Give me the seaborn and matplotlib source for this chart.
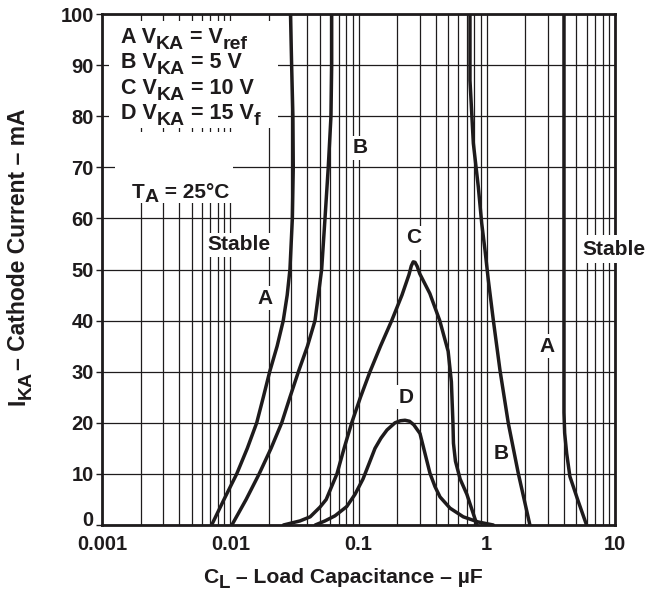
import numpy as np
import pandas as pd
import matplotlib
matplotlib.use("Agg")
import matplotlib.pyplot as plt
from matplotlib.ticker import FixedLocator, NullFormatter
from matplotlib.transforms import offset_copy
import seaborn as sns

# Curve data (C_L in uF, I_KA in mA)
a_left_c = [0.00716, 0.00894, 0.01123, 0.01358, 0.01608, 0.0181, 0.0203, 0.0232, 0.0259,
            0.0278, 0.0292, 0.0305, 0.0310, 0.0308, 0.0301, 0.0295]
a_left_i = [0, 5, 10, 15, 20, 25, 30, 35, 40, 45, 50, 60, 70, 80, 90, 100]

b_left_c = [0.0103, 0.0133, 0.0168, 0.0208, 0.0252, 0.0292, 0.0340, 0.0400, 0.0458,
            0.0516, 0.0548, 0.0581, 0.0610, 0.0618, 0.0618]
b_left_i = [0, 5, 10, 15, 20, 25, 30, 35, 40, 50, 60, 70, 80, 90, 100]

c_c = [0.026, 0.035, 0.042, 0.0501, 0.056, 0.0679, 0.0772, 0.0885, 0.1036, 0.1229,
       0.1484, 0.1815, 0.2183, 0.2476, 0.258, 0.267, 0.276, 0.287, 0.300, 0.360, 0.430,
       0.500, 0.530, 0.545, 0.550, 0.570, 0.620, 0.700, 0.840]
c_i = [0, 0.8, 1.6, 3.5, 5, 10, 15, 20, 25, 30, 35, 40, 45, 49, 50.7, 51.5, 51.4, 50.6,
       49.2, 45.3, 40, 34, 28, 20, 16, 12.5, 9, 6, 0]

d_c = [0.046, 0.0548, 0.0656, 0.0809, 0.0939, 0.1084, 0.1208, 0.1345, 0.1497, 0.1668,
       0.1926, 0.2120, 0.2306, 0.250, 0.270, 0.3016, 0.330, 0.361, 0.395, 0.432, 0.517,
       0.656, 0.855, 1.125]
d_i = [0, 0.8, 1.8, 3.6, 6, 9, 12, 15, 17, 18.6, 20, 20.4, 20.5, 20.3, 19.6, 17.9, 14,
       10.1, 7.5, 5.5, 3.3, 1.6, 0.6, 0]

b_right_c = [0.740, 0.740, 0.786, 0.859, 0.914, 0.969, 1.028, 1.125, 1.268, 1.473, 1.762, 2.170]
b_right_i = [100, 87, 74.7, 66.2, 59, 53.8, 48, 40.1, 30.3, 19.9, 10.1, 0]

a_right_c = [4.0, 4.0, 4.05, 4.2, 4.45, 5.15, 6.0]
a_right_i = [100, 22, 18, 14, 9.5, 4.75, 0]

y_ticks = [0, 10, 20, 30, 40, 50, 60, 70, 80, 90, 100]
x_ticks = [0.001, 0.01, 0.1, 1, 10]
x_tick_labels = ["0.001", "0.01", "0.1", "1", "10"]

curves = [(a_left_c, a_left_i), (b_left_c, b_left_i), (c_c, c_i),
          (d_c, d_i), (b_right_c, b_right_i), (a_right_c, a_right_i)]

sns.set_theme(style="white")
plt.rcParams['font.family'] = ['Liberation Sans', 'DejaVu Sans']
plt.rcParams['font.weight'] = 'bold'

ink = '#1e1b1c'
fs_tick = 14.5
fs_text = 15
fs_leg = 15.5
fs_sub = 14
fs_title = 15.2

fig = plt.figure(figsize=(6.45, 5.91), dpi=100)
ax = fig.add_axes([102 / 645, 1 - 525 / 591, 513 / 645, 511 / 591])

for cx, cy in curves:
    df = pd.DataFrame({'cap': cx, 'cur': cy})
    sns.lineplot(data=df, x='cap', y='cur', sort=False, estimator=None,
                 color=ink, lw=2.5, ax=ax, zorder=4)

ax.set_xscale('log')
ax.set_xlim(0.001, 10)
ax.set_ylim(0, 100)

minor = [m * 10.0 ** e for e in range(-3, 1) for m in range(2, 10)]
ax.xaxis.set_major_locator(FixedLocator(x_ticks))
ax.xaxis.set_minor_locator(FixedLocator(minor))
ax.xaxis.set_minor_formatter(NullFormatter())
ax.set_xticklabels(x_tick_labels)
ax.set_yticks(y_ticks)

ax.grid(True, which='both', axis='x', color=ink, lw=0.9)
ax.grid(True, which='major', axis='y', color=ink, lw=0.9)
ax.set_axisbelow(True)

for s in ax.spines.values():
    s.set_visible(True)
    s.set_color(ink)
    s.set_linewidth(2.0)

ax.tick_params(axis='x', which='both', length=0, pad=7, labelsize=fs_tick, colors=ink)
ax.tick_params(axis='y', which='major', length=4, width=1, pad=2, labelsize=fs_tick,
               colors=ink, left=True)
for lbl in ax.get_xticklabels() + ax.get_yticklabels():
    lbl.set_fontweight('bold')
# the "0" label sits a little above its gridline in the reference
zero_lbl = ax.yaxis.get_major_ticks()[0].label1
zero_lbl.set_transform(offset_copy(zero_lbl.get_transform(), fig=fig, y=6, units='dots'))
ax.set_xlabel('')
ax.set_ylabel('')


def rich_text(parent, x, y, segments, transform, size, sub_size, vertical=False):
    # chain normal / subscript pieces so subscripts keep a large size
    rot = 90 if vertical else 0
    first = parent.text(x, y, segments[0][0], transform=transform, fontsize=size,
                        fontweight='bold', color=ink, rotation=rot,
                        ha='right' if vertical else 'left', va='bottom', zorder=6)
    prev = first
    for txt, is_sub in segments[1:]:
        fsz = sub_size if is_sub else size
        shift = -3.5 if is_sub else 0
        if vertical:
            prev = ax.annotate(txt, xy=(1, 1), xycoords=(first, prev), xytext=(-shift, 0),
                               textcoords='offset points', ha='right', va='bottom',
                               rotation=90, fontsize=fsz, fontweight='bold', color=ink,
                               zorder=6, annotation_clip=False)
        else:
            prev = ax.annotate(txt, xy=(1, 0), xycoords=(prev, first), xytext=(0, shift),
                               textcoords='offset points', ha='left', va='bottom',
                               fontsize=fsz, fontweight='bold', color=ink,
                               zorder=6, annotation_clip=False)
    return first


# legend block with white background
ax.add_patch(plt.Rectangle((0.014, 0.777), 0.33, 0.21, transform=ax.transAxes,
                           facecolor='white', edgecolor='none', zorder=2))
legend_lines = [
    [('A V', False), ('KA', True), (' = V', False), ('ref', True)],
    [('B V', False), ('KA', True), (' = 5 V', False)],
    [('C V', False), ('KA', True), (' = 10 V', False)],
    [('D V', False), ('KA', True), (' = 15 V', False), ('f', True)],
]
for k, segs in enumerate(legend_lines):
    rich_text(ax, 0.037, 0.934 - k * 0.0499, segs, ax.transAxes, fs_leg, fs_sub)

ax.add_patch(plt.Rectangle((0.025, 0.630), 0.23, 0.14, transform=ax.transAxes,
                           facecolor='white', edgecolor='none', zorder=2))
rich_text(ax, 0.058, 0.633, [('T', False), ('A', True), (' = 25°C', False)],
          ax.transAxes, fs_text, fs_sub)

box = dict(facecolor='white', edgecolor='none', pad=2)
labels = [(0.0116, 54.8, 'Stable'), (0.01866, 44.4, 'A'), (0.1027, 73.8, 'B'),
          (0.2708, 56.2, 'C'), (0.2345, 25.0, 'D'), (2.95, 35.0, 'A'),
          (1.29, 13.9, 'B')]
for lx, ly, t in labels:
    ax.text(lx, ly, t, ha='center', va='center', fontsize=fs_text, fontweight='bold',
            color=ink, bbox=box, zorder=3)
ax.text(9.82, 54.0, 'Stable', ha='center', va='center', fontsize=fs_text,
        fontweight='bold', color=ink, bbox=dict(facecolor='white', edgecolor='none', pad=3),
        zorder=5, clip_on=False)

# axis titles
rich_text(fig, 203 / 645, 1 - 587 / 591,
          [('C', False), ('L', True), (' – Load Capacitance – µF', False)],
          fig.transFigure, fs_title, 13.5)
rich_text(fig, 30 / 645, 1 - 405 / 591,
          [('I', False), ('KA', True), ('– Cathode Current – mA', False)],
          fig.transFigure, 16.5, fs_sub, vertical=True)

fig.savefig('out.png', dpi=100)
